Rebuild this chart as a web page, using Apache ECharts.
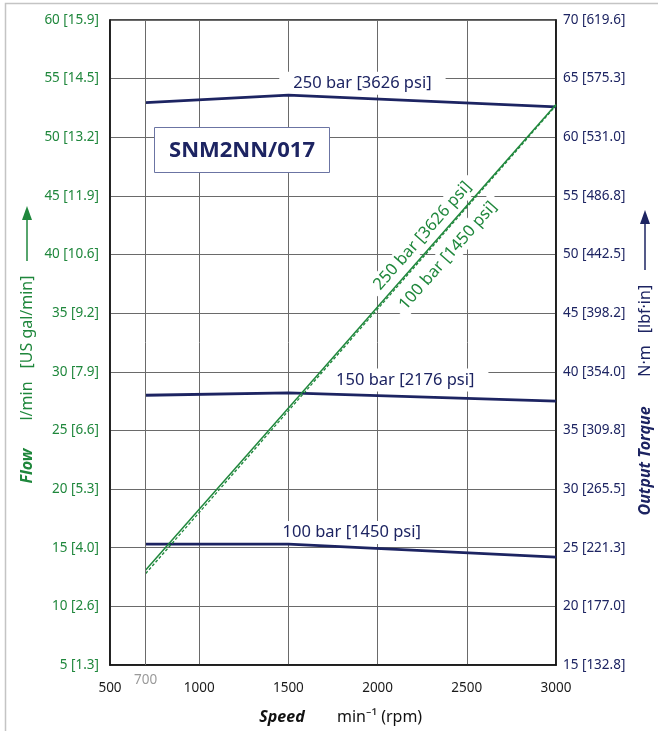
<!DOCTYPE html>
<html>
<head>
<meta charset="utf-8">
<title>SNM2NN/017</title>
<script src="https://cdn.jsdelivr.net/npm/echarts/dist/echarts.min.js"></script>
<style>
    html, body { margin: 0; padding: 0; background: #fff; }
    #main { width: 658px; height: 731px; }
</style>
</head>
<body>
<div id="main"></div>
<script>
// tick labels of the two value axes
var flowTicks = [5, 10, 15, 20, 25, 30, 35, 40, 45, 50, 55, 60];
var galLabels = ['1.3', '2.6', '4.0', '5.3', '6.6', '7.9', '9.2', '10.6', '11.9', '13.2', '14.5', '15.9'];
var torqueTicks = [15, 20, 25, 30, 35, 40, 45, 50, 55, 60, 65, 70];
var lbfLabels = ['132.8', '177.0', '221.3', '265.5', '309.8', '354.0', '398.2', '442.5', '486.8', '531.0', '575.3', '619.6'];

// output torque (N·m) against speed
var torqueSpeed = [700, 1500, 3000];
var torque250 = [62.95, 63.6, 62.6];
var torque150 = [38.0, 38.2, 37.5];
var torque100 = [25.3, 25.3, 24.2];

// flow (l/min) against speed
var flowSpeed = [700, 3000];
var flow100 = [13.1, 52.8];
var flow250 = [12.8, 52.7];

var navy = '#1d2462';
var green = '#1f873c';
var gridGray = '#6a6a6a';
var font = '"Noto Sans", "Open Sans", sans-serif';

function zip(xs, ys) {
    return xs.map(function (x, i) { return [x, ys[i]]; });
}

var myChart = echarts.init(document.getElementById('main'));

var option = {
    animation: false,
    textStyle: { fontFamily: font },
    grid: {
        left: 110, top: 20, right: 102, bottom: 66,
        show: true, borderColor: '#111', borderWidth: 1.5
    },
    xAxis: {
        type: 'value', min: 500, max: 3000, interval: 500,
        axisLine: { show: true, lineStyle: { color: '#111', width: 1.5 } },
        axisTick: { show: false },
        axisLabel: {
            color: '#1a1a1a', fontSize: 13.5, margin: 16, fontFamily: font,
            formatter: function (v) { return String(v); }
        },
        splitLine: { show: true, lineStyle: { color: gridGray, width: 1 } }
    },
    yAxis: [{
        type: 'value', min: 5, max: 60, interval: 5, position: 'left',
        axisLine: { show: true, lineStyle: { color: '#111', width: 1.5 } },
        axisTick: { show: false },
        axisLabel: {
            color: green, fontSize: 13.5, margin: 11, fontFamily: font,
            formatter: function (v) {
                return v + ' [' + galLabels[flowTicks.indexOf(v)] + ']';
            }
        },
        splitLine: { show: true, lineStyle: { color: gridGray, width: 1 } }
    }, {
        type: 'value', min: 15, max: 70, interval: 5, position: 'right',
        axisLine: { show: true, lineStyle: { color: '#111', width: 1.5 } },
        axisTick: { show: false },
        axisLabel: {
            color: navy, fontSize: 13.5, margin: 7, fontFamily: font,
            formatter: function (v) {
                return v + ' [' + lbfLabels[torqueTicks.indexOf(v)] + ']';
            }
        },
        splitLine: { show: false }
    }],
    series: [
        // text labels with white boxes (sit under the curves, above the grid)
        {
            name: 'torqueLabels', type: 'scatter', yAxisIndex: 1, z: 1,
            symbolSize: 0, silent: true,
            itemStyle: { opacity: 1 },
            label: {
                show: true, position: 'inside', color: navy, fontSize: 16.5,
                fontFamily: font, backgroundColor: '#fff', padding: [3, 14, 3, 14],
                formatter: function (p) { return p.data.text; }
            },
            data: [
                { value: [1915, 64.6], text: '250 bar [3626 psi]' },
                { value: [2155, 39.3], text: '150 bar [2176 psi]' },
                { value: [1855, 26.3], text: '100 bar [1450 psi]' }
            ],
            // extra grid line at the 700 min⁻¹ start speed
            markLine: {
                silent: true, symbol: 'none',
                lineStyle: { color: gridGray, width: 1, type: 'solid' },
                label: { show: false },
                data: [{ xAxis: 700 }]
            }
        },
        {
            name: 'flowLabels', type: 'scatter', yAxisIndex: 0, z: 1,
            symbolSize: 0, silent: true,
            itemStyle: { opacity: 1 },
            label: {
                show: true, position: 'inside', color: green, fontSize: 16.5,
                fontFamily: font, backgroundColor: '#fff', padding: [2, 6, 2, 6],
                rotate: 48.6,
                formatter: function (p) { return p.data.text; }
            },
            data: [
                { value: [2252, 41.6], text: '250 bar [3626 psi]' },
                { value: [2395, 39.9], text: '100 bar [1450 psi]' }
            ]
        },
        {
            name: '250 bar', type: 'line', yAxisIndex: 1, z: 3,
            data: zip(torqueSpeed, torque250), symbol: 'none',
            lineStyle: { color: navy, width: 2.8 }
        },
        {
            name: '150 bar', type: 'line', yAxisIndex: 1, z: 3,
            data: zip(torqueSpeed, torque150), symbol: 'none',
            lineStyle: { color: navy, width: 2.8 }
        },
        {
            name: '100 bar', type: 'line', yAxisIndex: 1, z: 3,
            data: zip(torqueSpeed, torque100), symbol: 'none',
            lineStyle: { color: navy, width: 2.8 }
        },
        {
            name: 'flow 100 bar', type: 'line', yAxisIndex: 0, z: 4,
            data: zip(flowSpeed, flow100), symbol: 'none',
            lineStyle: { color: green, width: 1.5 }
        },
        {
            name: 'flow 250 bar', type: 'line', yAxisIndex: 0, z: 4,
            data: zip(flowSpeed, flow250), symbol: 'none',
            lineStyle: { color: green, width: 1.3, type: [3, 2] }
        }
    ]
};

myChart.setOption(option);

// 700 start-speed tick label below the axis, placed through the scale
var p700 = myChart.convertToPixel({ gridIndex: 0 }, [700, 5]);

function vText(id, x, y, text, color, bold) {
    return {
        type: 'text', id: id, x: x, y: y, rotation: Math.PI / 2, z: 10,
        style: {
            text: text, fill: color, font: (bold ? 'italic bold ' : '') + '16px ' + font,
            textAlign: 'center', textVerticalAlign: 'middle'
        }
    };
}

function arrow(id, x, yTop, yBottom, color) {
    return {
        type: 'group', id: id, z: 10,
        children: [{
            type: 'line',
            shape: { x1: x, y1: yTop + 10, x2: x, y2: yBottom },
            style: { stroke: color, lineWidth: 1.5 }
        }, {
            type: 'polygon',
            shape: { points: [[x, yTop], [x - 5, yTop + 14], [x + 5, yTop + 14]] },
            style: { fill: color }
        }]
    };
}

myChart.setOption({
    graphic: [
        {
            type: 'rect', id: 'frame', z: -1, silent: true,
            shape: { x: 5.5, y: 3.5, width: 700, height: 800 },
            style: { fill: 'none', stroke: '#c4c4c4', lineWidth: 1.5 }
        },
        {
            type: 'text', id: 'start700', x: p700[0], y: p700[1] + 15,
            style: {
                text: '700', fill: '#9a9a9a', font: '13.5px ' + font,
                textAlign: 'center', textVerticalAlign: 'middle'
            }
        },
        {
            type: 'group', id: 'model', left: 154, top: 127, z: 10,
            children: [{
                type: 'rect', shape: { x: 0, y: 0, width: 175, height: 45 },
                style: { fill: '#fff', stroke: '#6b74a3', lineWidth: 1 }
            }, {
                type: 'text', x: 87.5, y: 23,
                style: {
                    text: 'SNM2NN/017', fill: navy, font: 'bold 22px ' + font,
                    textAlign: 'center', textVerticalAlign: 'middle'
                }
            }]
        },
        // left axis name
        vText('flowName', 27, 466, 'Flow', green, true),
        vText('flowUnit', 27, 401, 'l/min', green, false),
        vText('flowUs', 27, 322, '[US gal/min]', green, false),
        arrow('flowArrow', 27, 206, 261, green),
        // right axis name
        vText('torqueName', 645, 461, 'Output Torque', navy, true),
        vText('torqueUnit', 645, 361, 'N·m', navy, false),
        vText('torqueUs', 645, 309, '[lbf·in]', navy, false),
        arrow('torqueArrow', 645, 210, 270, navy),
        // x axis name
        {
            type: 'text', id: 'speedName', x: 282, y: 717,
            style: {
                text: 'Speed', fill: '#111', font: 'italic bold 16px ' + font,
                textAlign: 'center', textVerticalAlign: 'middle'
            }
        },
        {
            type: 'text', id: 'speedUnit', x: 337, y: 717,
            style: {
                text: 'min⁻¹ (rpm)', fill: '#111', font: '16px ' + font,
                textAlign: 'left', textVerticalAlign: 'middle'
            }
        }
    ]
});
</script>
</body>
</html>
